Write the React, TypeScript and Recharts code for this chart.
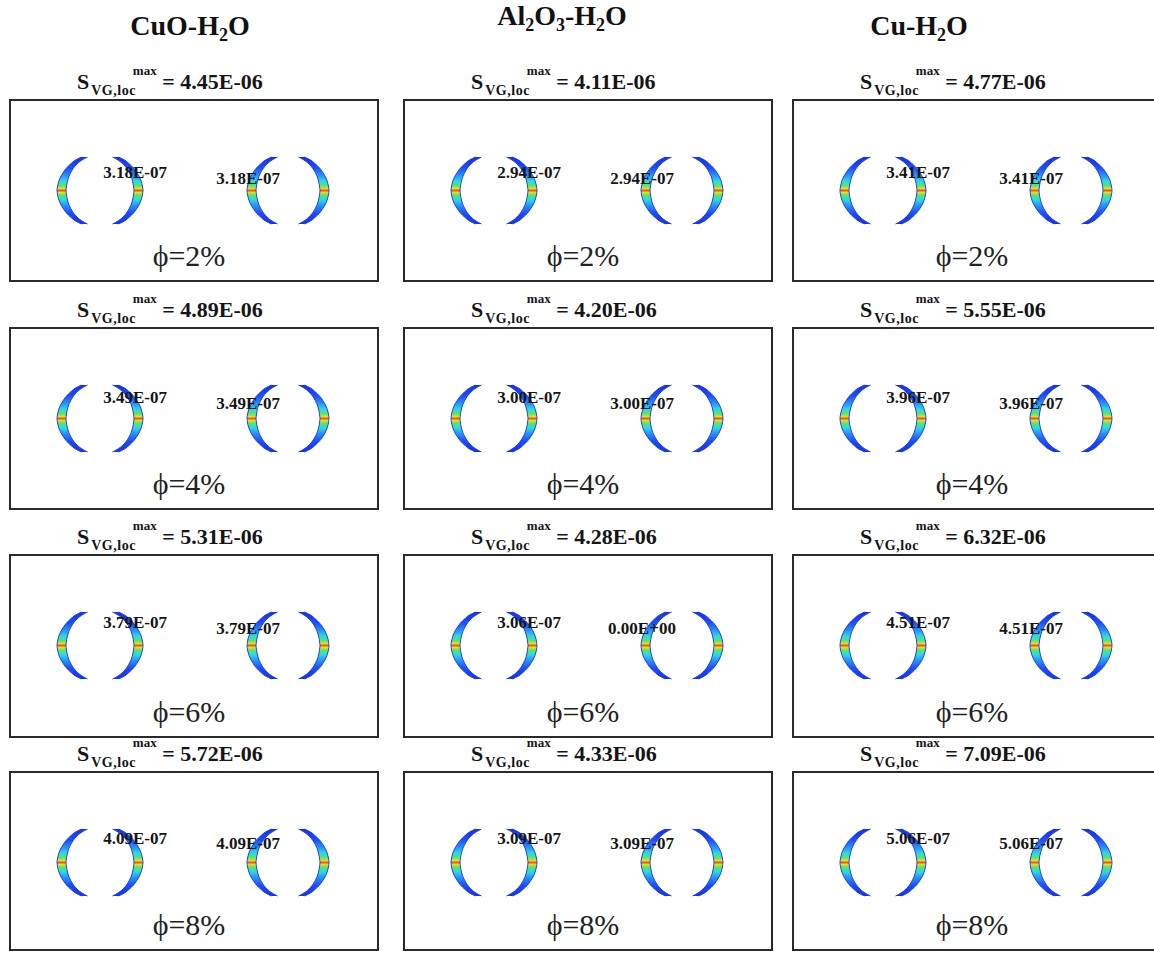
import React from "react";
import { ComposedChart, Area, XAxis, YAxis, ReferenceDot } from "recharts";

// column headers, split into [text, isSubscript] pieces
const headers: Array<Array<[string, boolean]>> = [
  [["CuO-H", false], ["2", true], ["O", false]],
  [["Al", false], ["2", true], ["O", false], ["3", true], ["-H", false], ["2", true], ["O", false]],
  [["Cu-H", false], ["2", true], ["O", false]],
];

const phiLabels = ["ϕ=2%", "ϕ=4%", "ϕ=6%", "ϕ=8%"];

// S_VG,loc max per row
const sMaxCuO = ["4.45E-06", "4.89E-06", "5.31E-06", "5.72E-06"];
const sMaxAl2O3 = ["4.11E-06", "4.20E-06", "4.28E-06", "4.33E-06"];
const sMaxCu = ["4.77E-06", "5.55E-06", "6.32E-06", "7.09E-06"];

// local values written next to the inner blades
const locLeftCuO = ["3.18E-07", "3.49E-07", "3.79E-07", "4.09E-07"];
const locRightCuO = ["3.18E-07", "3.49E-07", "3.79E-07", "4.09E-07"];
const locLeftAl2O3 = ["2.94E-07", "3.00E-07", "3.06E-07", "3.09E-07"];
const locRightAl2O3 = ["2.94E-07", "3.00E-07", "0.00E+00", "3.09E-07"];
const locLeftCu = ["3.41E-07", "3.96E-07", "4.51E-07", "5.06E-07"];
const locRightCu = ["3.41E-07", "3.96E-07", "4.51E-07", "5.06E-07"];

// crescent outlines (panel units: px from the box's top-left corner)
const crescentY = [58, 61, 65, 69, 73, 77, 81, 85, 88, 91.5, 95, 98, 102, 106, 110, 114, 118, 122, 125];
const crescentA = [
  [72.5, 78.5], [66.5, 73], [61.5, 68], [57.5, 64.5], [54.5, 62], [52, 60], [50.2, 58.7], [49, 57.8], [48.4, 57.4], [48, 57],
  [48.4, 57.4], [49, 57.8], [50.2, 58.7], [52, 60], [54.5, 62], [57.5, 64.5], [61.5, 68], [66.5, 73], [72.5, 78.5],
];
const crescentB = [
  [103.5, 109.5], [109, 115.5], [114, 120.5], [117.5, 124.5], [120, 127.5], [122, 130], [123.3, 131.8], [124.2, 133], [124.6, 133.6], [125, 134],
  [124.6, 133.6], [124.2, 133], [123.3, 131.8], [122, 130], [120, 127.5], [117.5, 124.5], [114, 120.5], [109, 115.5], [103.5, 109.5],
];
const crescentC = [
  [262.5, 268.5], [256.5, 263], [251.5, 258], [247.5, 254.5], [244.5, 252], [242, 250], [240.2, 248.7], [239, 247.8], [238.4, 247.4], [238, 247],
  [238.4, 247.4], [239, 247.8], [240.2, 248.7], [242, 250], [244.5, 252], [247.5, 254.5], [251.5, 258], [256.5, 263], [262.5, 268.5],
];
const crescentD = [
  [289.5, 295.5], [295, 301.5], [300, 306.5], [303.5, 310.5], [306, 313.5], [308, 316], [309.3, 317.8], [310.2, 319], [310.6, 319.6], [311, 320],
  [310.6, 319.6], [310.2, 319], [309.3, 317.8], [308, 316], [306, 313.5], [303.5, 310.5], [300, 306.5], [295, 301.5], [289.5, 295.5],
];

const crescentRows = crescentY.map((y, i) => ({
  y,
  a: crescentA[i],
  b: crescentB[i],
  c: crescentC[i],
  d: crescentD[i],
}));

const columns = [
  { sMax: sMaxCuO, left: locLeftCuO, right: locRightCuO },
  { sMax: sMaxAl2O3, left: locLeftAl2O3, right: locRightAl2O3 },
  { sMax: sMaxCu, left: locLeftCu, right: locRightCu },
];

const FONT = "'Liberation Serif', 'Times New Roman', Times, serif";
const BOX_W = 370;
const colLeft = [9, 403, 792];
const rowTop = [99, 327, 554, 771];
const rowH = [183, 183, 184, 180];
const headerCenter = [190, 562, 919];
const headerBaseline = [35, 25, 35];
const leftLabelY = [73, 70, 68, 67];
const rightLabelY = [79, 76, 74, 72];

const jetStops: Array<[string, string]> = [
  ["0%", "#1a30d8"],
  ["16%", "#1d4ef0"],
  ["28%", "#2a96f4"],
  ["36%", "#2ed8e0"],
  ["43%", "#5fe26c"],
  ["47%", "#d8e030"],
  ["50%", "#f05a16"],
  ["53%", "#d8e030"],
  ["57%", "#5fe26c"],
  ["64%", "#2ed8e0"],
  ["72%", "#2a96f4"],
  ["84%", "#1d4ef0"],
  ["100%", "#1a30d8"],
];

const Panel = ({ col, row }: { col: number; row: number }) => {
  const w = BOX_W;
  const h = rowH[row];
  const gid = `jet-${col}-${row}`;
  const info = columns[col];
  const labelStyle = { fill: "#151515", fontSize: 17, fontWeight: 700, fontFamily: FONT };
  return (
    <div style={{ position: "absolute", left: colLeft[col], top: rowTop[row], width: w, height: h }}>
      <ComposedChart
        layout="vertical"
        width={w}
        height={h}
        data={crescentRows}
        margin={{ top: 0, right: 0, bottom: 0, left: 0 }}
      >
        <defs>
          <linearGradient id={gid} x1="0" y1="0" x2="0" y2="1">
            {jetStops.map(([o, c]) => (
              <stop key={o} offset={o} stopColor={c} />
            ))}
          </linearGradient>
        </defs>
        <XAxis type="number" domain={[0, w]} hide allowDataOverflow />
        <YAxis type="number" dataKey="y" domain={[0, h]} hide allowDataOverflow />
        {["a", "b", "c", "d"].map((k) => (
          <Area
            key={k}
            dataKey={k}
            type="monotone"
            fill={`url(#${gid})`}
            fillOpacity={1}
            stroke="#2343e6"
            strokeWidth={1}
            dot={false}
            activeDot={false}
            isAnimationActive={false}
          />
        ))}
        <ReferenceDot
          x={126}
          y={leftLabelY[row]}
          r={0}
          fill="none"
          stroke="none"
          label={{ value: info.left[row], position: "center", ...labelStyle }}
        />
        <ReferenceDot
          x={239}
          y={rightLabelY[row]}
          r={0}
          fill="none"
          stroke="none"
          label={{ value: info.right[row], position: "center", ...labelStyle }}
        />
        <ReferenceDot
          x={180}
          y={h - 27}
          r={0}
          fill="none"
          stroke="none"
          label={{
            value: phiLabels[row],
            position: "center",
            fill: "#222",
            fontSize: 30,
            fontFamily: FONT,
          }}
        />
      </ComposedChart>
      <div
        style={{
          position: "absolute",
          inset: 0,
          border: "2px solid #2a2a2a",
          boxSizing: "border-box",
          pointerEvents: "none",
        }}
      />
    </div>
  );
};

const PanelTitle = ({ col, row }: { col: number; row: number }) => (
  <div
    style={{
      position: "absolute",
      left: colLeft[col] + 68,
      top: rowTop[row] - 28.4,
      fontSize: 22,
      lineHeight: "22px",
      fontWeight: 700,
      whiteSpace: "nowrap",
      color: "#151515",
    }}
  >
    S
    <span style={{ fontSize: 14, position: "relative", top: 6, marginLeft: 2, letterSpacing: 0.5 }}>
      VG,loc
    </span>
    <span style={{ fontSize: 13, position: "relative", top: -14, marginLeft: -3 }}>max</span>
    {" = " + columns[col].sMax[row]}
  </div>
);

export default function App() {
  return (
    <div
      style={{
        position: "absolute",
        left: 0,
        top: 0,
        width: 1154,
        height: 953,
        overflow: "hidden",
        background: "#fff",
        fontFamily: FONT,
      }}
    >
      {headers.map((parts, c) => (
        <div
          key={c}
          style={{
            position: "absolute",
            left: headerCenter[c] - 150,
            width: 300,
            top: headerBaseline[c] - 23.4,
            textAlign: "center",
            fontSize: 28,
            lineHeight: "28px",
            fontWeight: 700,
            color: "#111",
            whiteSpace: "nowrap",
          }}
        >
          {parts.map(([t, sub], i) =>
            sub ? (
              <span key={i} style={{ fontSize: 18, position: "relative", top: 6 }}>
                {t}
              </span>
            ) : (
              <span key={i}>{t}</span>
            )
          )}
        </div>
      ))}
      {[0, 1, 2].map((c) =>
        [0, 1, 2, 3].map((r) => (
          <React.Fragment key={`${c}-${r}`}>
            <PanelTitle col={c} row={r} />
            <Panel col={c} row={r} />
          </React.Fragment>
        ))
      )}
    </div>
  );
}
